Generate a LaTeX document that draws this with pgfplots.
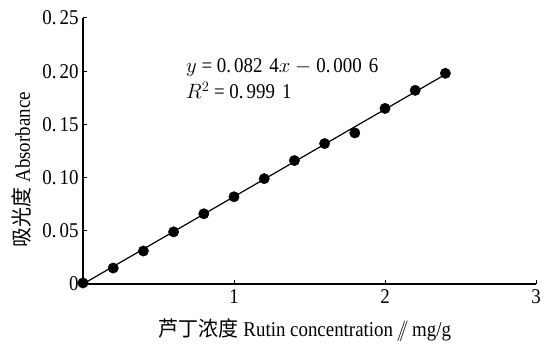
\documentclass[border=0pt]{standalone}
\usepackage{fontspec}
\setmainfont{Liberation Serif}[FakeStretch=0.9]
\newfontfamily\cjk{Noto Sans CJK SC}[FakeStretch=0.95]
\usepackage{pgfplots}
\pgfplotsset{compat=1.18}
\newcommand{\dg}{.\hspace{3pt}}
\begin{document}
\begin{tikzpicture}
\begin{axis}[
  at={(0,0)}, anchor=south west,
  scale only axis, width=453pt, height=266pt,
  xmin=0, xmax=3, ymin=0, ymax=0.25,
  axis lines=left, axis line style={-, line width=1.3pt},
  xtick={1,2,3}, ytick={0,0.05,0.1,0.15,0.2,0.25},
  yticklabels={0,{0\dg 05},{0\dg 10},{0\dg 15},{0\dg 20},{0\dg 25}},
  tick align=inside, major tick length=4pt,
  tick style={line width=1pt, black},
  tick label style={font=\fontsize{21}{23}\selectfont},
  /pgf/number format/assume math mode=true,
  xticklabel style={yshift=-2pt},
  yticklabel style={xshift=-1pt},
  xlabel={{\cjk 芦丁浓度} Rutin concentration\,$/\!\!/$\,mg/g},
  ylabel={{\cjk 吸光度} Absorbance},
  label style={font=\fontsize{21}{23}\selectfont},
  xlabel style={at={(axis description cs:0.49,0)}, anchor=north, yshift=-31pt},
  ylabel style={at={(axis description cs:0,0.43)}, anchor=south, yshift=48pt},
  clip=false,
]
\addplot[black, line width=1.2pt] coordinates {(0,0) (2.4,0.197)};
\addplot[only marks, mark=*, mark size=5.2pt, black] coordinates {
(0,0.001) (0.2,0.015) (0.4,0.031) (0.6,0.049) (0.8,0.066) (1.0,0.082)
(1.2,0.099) (1.4,0.116) (1.6,0.132) (1.8,0.142) (2.0,0.165) (2.2,0.182) (2.4,0.198)};
\node[anchor=west, font=\fontsize{21}{23}\selectfont, align=left] at (axis cs:0.66,0.203) {$y$ = 0\dg 082\hspace{7pt}4$x$ $-$\hspace{5pt}0\dg 000\hspace{7pt}6};
\node[anchor=west, font=\fontsize{21}{23}\selectfont, align=left] at (axis cs:0.66,0.182) {$R^{2}$ = 0\dg 999\hspace{7pt}1};
\end{axis}
\useasboundingbox (-83pt,-64pt) rectangle (470pt,284pt);
\end{tikzpicture}
\end{document}
